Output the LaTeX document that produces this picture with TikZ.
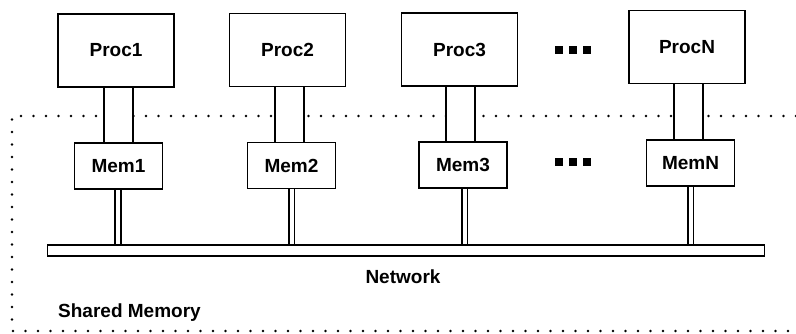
\documentclass[tikz,border=0pt]{standalone}
\usepackage{fontspec}
\setmainfont{Liberation Sans}
\pgfdeclarelayer{regionlayer}
\pgfdeclarelayer{linklayer}
\pgfsetlayers{regionlayer,linklayer,main}
\begin{document}
\begin{tikzpicture}[x=1pt,y=-1pt,
  lbl/.style={font=\fontsize{19}{22}\selectfont\bfseries, inner sep=0pt},
  unit/.style={draw, line width=1.9pt, fill=white, lbl},
  procbox/.style={unit, minimum width=116pt, minimum height=73pt},
  membox/.style={unit, minimum width=88pt, minimum height=46pt},
  bus/.style={line width=2pt, double=white, double distance=27pt},
  tap/.style={line width=1.6pt, double=white, double distance=4pt},
  region/.style={line width=2.8pt, line cap=round, dash pattern=on 0pt off 12.5pt},
  dotmark/.style={fill=black}
]
\useasboundingbox (0,0) rectangle (796,333);

% processors
\node[procbox] (p1) at (116,50.5) {Proc1};
\node[procbox] (p2) at (287.5,50) {Proc2};
\node[procbox] (p3) at (459.5,49.5) {Proc3};
\node[procbox] (pN) at (687,47) {ProcN};

% memories
\node[membox] (m1) at (118.5,166) {Mem1};
\node[membox] (m2) at (291.5,165.5) {Mem2};
\node[membox] (m3) at (463,165) {Mem3};
\node[membox] (mN) at (690.5,163) {MemN};

% network bar
\node[draw, line width=1.9pt, fill=white, minimum width=717pt, minimum height=11pt, inner sep=0pt] (net) at (406,250.5) {};

% shared memory region boundary
\begin{pgfonlayer}{regionlayer}
  \draw[region] (796,116) -- (12,116) -- (12,331) -- (796,331);
\end{pgfonlayer}

\begin{pgfonlayer}{linklayer}
  % processor-memory links
  \draw[bus] ([xshift=2pt]p1.south) -- ([xshift=2pt]p1.south |- m1.north);
  \draw[bus] ([xshift=1.5pt]p2.south) -- ([xshift=1.5pt]p2.south |- m2.north);
  \draw[bus] ([xshift=0.5pt]p3.south) -- ([xshift=0.5pt]p3.south |- m3.north);
  \draw[bus] ([xshift=1pt]pN.south) -- ([xshift=1pt]pN.south |- mN.north);
  % memory-network taps
  \draw[tap] ([xshift=-0.5pt]m1.south) -- ([xshift=-0.5pt]m1.south |- net.north);
  \draw[tap] (m2.south) -- (m2.south |- net.north);
  \draw[tap] ([xshift=1.5pt]m3.south) -- ([xshift=1.5pt]m3.south |- net.north);
  \draw[tap] (mN.south) -- (mN.south |- net.north);
\end{pgfonlayer}

% ellipsis marks
\foreach \cx in {559,573,587} {
  \fill[dotmark] (\cx-4,46) rectangle (\cx+4,54);
  \fill[dotmark] (\cx-4,158) rectangle (\cx+4,166);
}

% labels
\node[lbl] (netlabel) at (403,277) {Network};
\node[lbl, anchor=west] (shmlabel) at (58,313) {Shared Memory};
\end{tikzpicture}
\end{document}
